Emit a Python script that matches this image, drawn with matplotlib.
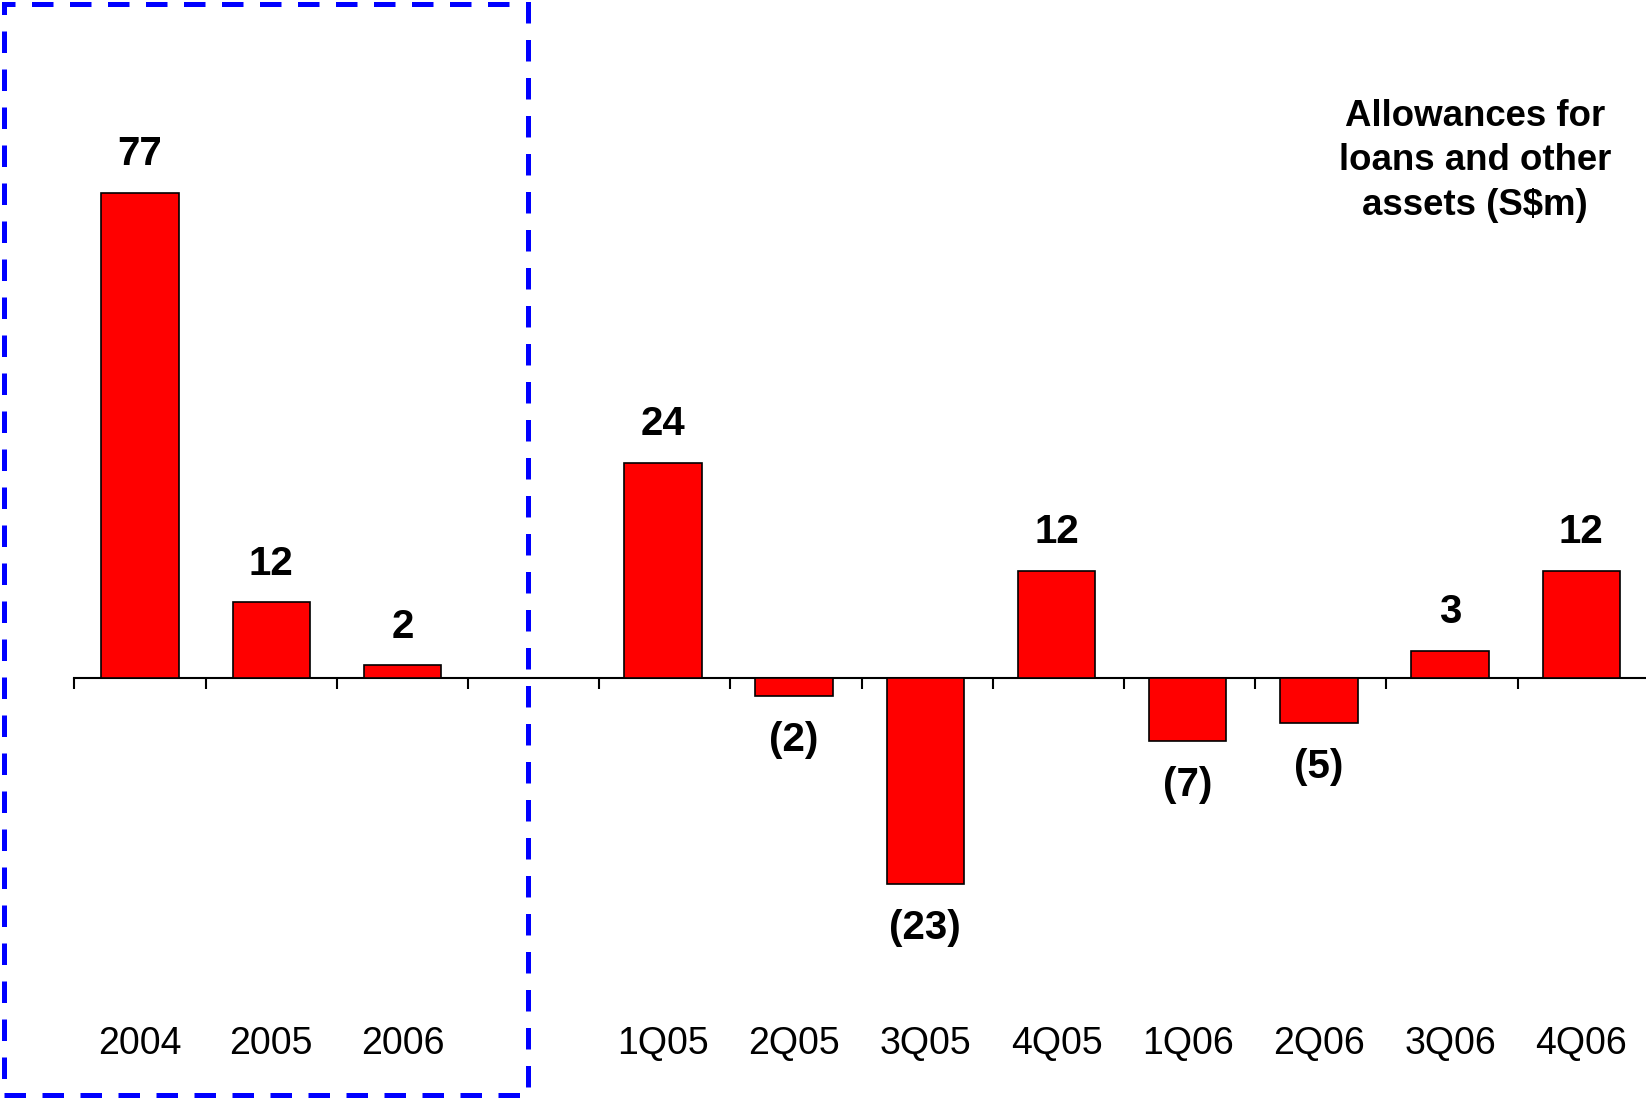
import matplotlib
matplotlib.use("Agg")
import matplotlib.pyplot as plt
from matplotlib.patches import Rectangle

plt.rcParams['font.family'] = ['Liberation Sans', 'DejaVu Sans']

annualLabels = ["2004", "2005", "2006"]
annualValues = [77, 12, 2]
quarterLabels = ["1Q05", "2Q05", "3Q05", "4Q05", "1Q06", "2Q06", "3Q06", "4Q06"]
quarterValues = [24, -2, -23, 12, -7, -5, 3, 12]

# slot positions: annual bars first, one empty slot, then quarters
annualPos = list(range(len(annualValues)))
quarterPos = [len(annualValues) + 1 + i - 0.015 for i in range(len(quarterValues))]
nSlots = len(annualValues) + 1 + len(quarterValues)

W, H = 1646, 1099
zeroFromTop = 678.0
annualScale = 6.3    # px per S$m, annual panel
quarterScale = 8.95  # px per S$m, quarterly panel

fig = plt.figure(figsize=(W / 100, H / 100), dpi=100)
left = 74.5 / W
slotPx = 131.2
ax = fig.add_axes([left, 0, nSlots * slotPx / W, 1])
ax.set_xlim(-0.5, nSlots - 0.5)
below = H - zeroFromTop
ax.set_ylim(-below / annualScale, zeroFromTop / annualScale)
ax2 = ax.twinx()
ax2.set_ylim(-below / quarterScale, zeroFromTop / quarterScale)

barWidth = 0.59
ax.bar(annualPos, annualValues, width=barWidth, color="#FF0000",
       edgecolor="black", linewidth=1.2, zorder=3)
ax2.bar(quarterPos, quarterValues, width=barWidth, color="#FF0000",
        edgecolor="black", linewidth=1.2, zorder=3)

def valueText(v):
    return str(v) if v >= 0 else "(%d)" % abs(v)

def labelBars(axis, positions, values):
    for x, v in zip(positions, values):
        if v >= 0:
            axis.annotate(valueText(v), (x, v), xytext=(0, 20), textcoords="offset points",
                          ha="center", va="baseline", fontsize=29, fontweight="bold")
        else:
            axis.annotate(valueText(v), (x, v), xytext=(0, -18), textcoords="offset points",
                          ha="center", va="top", fontsize=29, fontweight="bold")

labelBars(ax, annualPos, annualValues)
labelBars(ax2, quarterPos, quarterValues)

# zero axis with slot boundary ticks
for s in ["top", "left", "right"]:
    ax.spines[s].set_visible(False)
ax.spines["bottom"].set_position(("data", 0))
ax.spines["bottom"].set_linewidth(1.5)
for s in ax2.spines.values():
    s.set_visible(False)
ax.set_xticks([i - 0.5 for i in range(nSlots)])
ax.set_xticklabels([])
ax.tick_params(axis="x", direction="out", length=8, width=1.5)
ax.set_yticks([])
ax2.set_yticks([])

baseY = (H - 1054) / H
for x, lab in zip(annualPos + quarterPos, annualLabels + quarterLabels):
    ax.text(x, baseY, lab, transform=ax.get_xaxis_transform(), ha="center",
            va="baseline", fontsize=27)

fig.text(1475 / W, 1 - 161 / H, "Allowances for\nloans and other\nassets (S$m)",
         ha="center", va="center", fontsize=26.4, fontweight="bold", linespacing=1.36)

# dashed frame around the annual figures
frame = Rectangle((4 / W, 4 / H), (528 - 4) / W, (1095 - 4) / H, transform=fig.transFigure,
                  fill=False, edgecolor="#0000FF", linewidth=3.6, linestyle=(0, (4.3, 3.3)))
fig.add_artist(frame)

fig.savefig("out.png", dpi=100)
